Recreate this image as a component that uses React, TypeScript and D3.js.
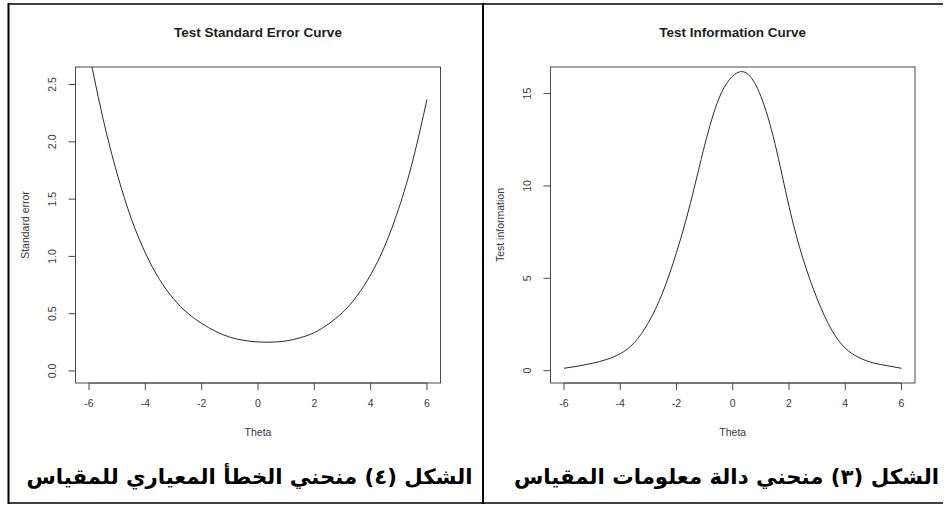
import React from "react";
import * as d3 from "d3";

// Ability grid (theta) shared by both curves
const theta = [-6, -5.5, -5, -4.5, -4, -3.5, -3, -2.5, -2, -1.5, -1, -0.5, 0, 0.5, 1, 1.5, 2, 2.5, 3, 3.5, 4, 4.5, 5, 5.5, 6];

// Standard error of measurement at each theta
const standardError = [2.78, 2.2, 1.72, 1.33, 1.03, 0.8, 0.63, 0.505, 0.415, 0.345, 0.295, 0.267, 0.253, 0.252, 0.262, 0.29, 0.335, 0.41, 0.51, 0.65, 0.84, 1.09, 1.42, 1.84, 2.37];

// Test information at each theta
const testInformation = [0.13, 0.25, 0.4, 0.6, 0.92, 1.52, 2.6, 4.2, 6.4, 9.1, 12.2, 14.7, 15.95, 16.1, 14.85, 12.3, 8.9, 6.05, 3.9, 2.25, 1.22, 0.7, 0.42, 0.27, 0.13];

const thetaTicks = [-6, -4, -2, 0, 2, 4, 6];
const seTicks = [0, 0.5, 1, 1.5, 2, 2.5];
const infoTicks = [0, 5, 10, 15];

const leftCaption = "الشكل (٤) منحني الخطأ المعياري للمقياس";
const rightCaption = "الشكل (٣) منحني دالة معلومات المقياس";

const SANS = "'Liberation Sans', Arial, Helvetica, sans-serif";
const ARABIC = "'DejaVu Sans', 'Noto Sans', sans-serif";
const AXIS = "#4a4a4a";
const TEXT = "#3a3a3a";

type PanelProps = {
  id: string;
  title: string;
  yLabel: string;
  values: number[];
  yTicks: number[];
  yFormat: (v: number) => string;
  xRange: [number, number];
  yDomain: [number, number];
  top: number;
  bottom: number;
};

function Panel({ id, title, yLabel, values, yTicks, yFormat, xRange, yDomain, top, bottom }: PanelProps) {
  const x = d3.scaleLinear().domain([-6.48, 6.48]).range(xRange);
  const y = d3.scaleLinear().domain(yDomain).range([bottom, top]);
  const line = d3
    .line<number>()
    .x((_, i) => x(theta[i]))
    .y((d) => y(d))
    .curve(d3.curveNatural);
  const [x0, x1] = xRange;
  const cx = (x0 + x1) / 2;
  const tickLabelX = x0 - 19;
  const yLabelX = x0 - 47;
  return (
    <g>
      <defs>
        <clipPath id={id}>
          <rect x={x0} y={top} width={x1 - x0} height={bottom - top} />
        </clipPath>
      </defs>
      <text x={cx} y={37} textAnchor="middle" fontFamily={SANS} fontWeight="bold" fontSize={13.5} fill="#1e1e1e">
        {title}
      </text>
      <rect x={x0} y={top} width={x1 - x0} height={bottom - top} fill="none" stroke={AXIS} strokeWidth={1} />
      <path d={line(values) ?? ""} fill="none" stroke="#2a2a2a" strokeWidth={1} clipPath={`url(#${id})`} />
      {/* x axis */}
      <line x1={x(thetaTicks[0])} x2={x(thetaTicks[thetaTicks.length - 1])} y1={bottom} y2={bottom} stroke={AXIS} />
      {thetaTicks.map((t) => (
        <g key={`xt${t}`}>
          <line x1={x(t)} x2={x(t)} y1={bottom} y2={bottom + 7} stroke={AXIS} />
          <text x={x(t)} y={bottom + 24} textAnchor="middle" fontFamily={SANS} fontSize={10.5} fill={TEXT}>
            {t}
          </text>
        </g>
      ))}
      <text x={cx} y={bottom + 53} textAnchor="middle" fontFamily={SANS} fontSize={10.5} fill={TEXT}>
        Theta
      </text>
      {/* y axis */}
      {yTicks.map((t) => (
        <g key={`yt${t}`}>
          <line x1={x0} x2={x0 - 7} y1={y(t)} y2={y(t)} stroke={AXIS} />
          <text
            x={tickLabelX}
            y={y(t)}
            transform={`rotate(-90 ${tickLabelX} ${y(t)})`}
            textAnchor="middle"
            fontFamily={SANS}
            fontSize={10.5}
            fill={TEXT}
          >
            {yFormat(t)}
          </text>
        </g>
      ))}
      <text
        x={yLabelX}
        y={(top + bottom) / 2}
        transform={`rotate(-90 ${yLabelX} ${(top + bottom) / 2})`}
        textAnchor="middle"
        fontFamily={SANS}
        fontSize={10.5}
        fill={TEXT}
      >
        {yLabel}
      </text>
    </g>
  );
}

export default function App() {
  const top = 67;
  const bottom = 383;
  return (
    <svg
      width={946}
      height={505}
      viewBox="0 0 946 505"
      style={{ position: "absolute", left: 0, top: 0, display: "block", background: "#fff" }}
    >
      <rect x={0} y={0} width={946} height={505} fill="#fff" />
      <Panel
        id="clip-se"
        title="Test Standard Error Curve"
        yLabel="Standard error"
        values={standardError}
        yTicks={seTicks}
        yFormat={d3.format(".1f")}
        xRange={[75.5, 440.5]}
        yDomain={[-0.105, 2.653]}
        top={top}
        bottom={bottom}
      />
      <Panel
        id="clip-info"
        title="Test Information Curve"
        yLabel="Test information"
        values={testInformation}
        yTicks={infoTicks}
        yFormat={d3.format("d")}
        xRange={[550.5, 915]}
        yDomain={[-0.666, 16.44]}
        top={top}
        bottom={bottom}
      />
      {/* table borders */}
      <line x1={8} x2={943} y1={4} y2={4} stroke="#000" strokeWidth={1.5} />
      <line x1={8} x2={943} y1={503} y2={503} stroke="#000" strokeWidth={1.5} />
      <line x1={8.5} x2={8.5} y1={3} y2={504} stroke="#000" strokeWidth={2} />
      <line x1={483} x2={483} y1={3} y2={504} stroke="#000" strokeWidth={2} />
      {/* captions */}
      <text
        x={472.5}
        y={484}
        direction="rtl"
        textAnchor="start"
        textLength={446}
        lengthAdjust="spacingAndGlyphs"
        fontFamily={ARABIC}
        fontWeight="bold"
        fontSize={21}
        fill="#000"
      >
        {leftCaption}
      </text>
      <text
        x={939}
        y={484}
        direction="rtl"
        textAnchor="start"
        textLength={425}
        lengthAdjust="spacingAndGlyphs"
        fontFamily={ARABIC}
        fontWeight="bold"
        fontSize={21}
        fill="#000"
      >
        {rightCaption}
      </text>
    </svg>
  );
}
